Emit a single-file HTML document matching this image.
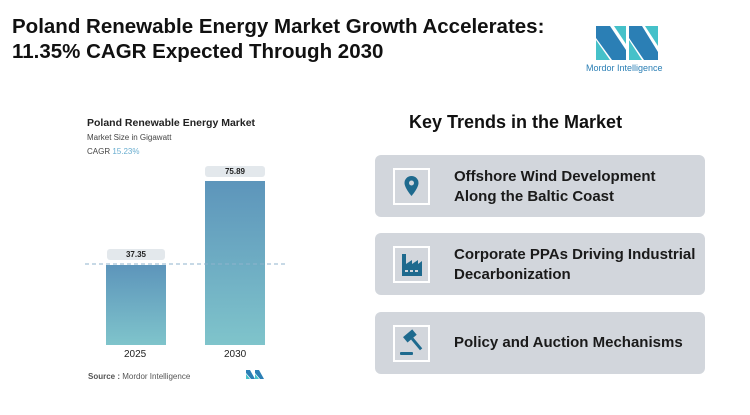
<!DOCTYPE html>
<html><head><style>
body{margin:0;width:750px;height:415px;background:#fff;font-family:"Liberation Sans",sans-serif;position:relative;overflow:hidden}
.a{position:absolute}
h1{position:absolute;left:12px;top:14px;margin:0;font-size:20.5px;line-height:25px;font-weight:bold;color:#111}
.card{position:absolute;left:375px;width:330px;height:62px;background:#d2d6dc;border-radius:6px}
.ic{position:absolute;left:18px;top:13px;width:33px;height:33px;border:2px solid #fff;background:#d2d6dc}
.ct{position:absolute;left:79px;font-size:15px;font-weight:bold;color:#1a1a1a;line-height:20px;white-space:nowrap}
.pill{position:absolute;height:11px;background:#e3e8ec;border-radius:3px;font-size:8px;font-weight:bold;text-align:center;line-height:11px;color:#222}
</style></head><body>
<h1>Poland Renewable Energy Market Growth Accelerates:<br>11.35% CAGR Expected Through 2030</h1>
<svg class="a" style="left:596px;top:26px" width="62" height="34">
<polygon points="0,0 14,0 30,24 30,34 16,34 0,12" fill="#2b7fb5"/>
<polygon points="0,14 14,34 0,34" fill="#45c1c9"/>
<polygon points="18,0 30,0 30,18" fill="#45c1c9"/>
<polygon points="33,0 46,0 62,26 62,34 48,34 33,12" fill="#2b7fb5"/>
<polygon points="33,14 46,34 33,34" fill="#45c1c9"/>
<polygon points="49,0 62,0 62,20" fill="#45c1c9"/>
</svg>
<div class="a" style="left:586px;top:63px;font-size:9px;color:#2b7fb5">Mordor Intelligence</div>

<div class="a" style="left:87px;top:117px;font-size:10.5px;font-weight:bold;color:#222">Poland Renewable Energy Market</div>
<div class="a" style="left:87px;top:133px;font-size:8px;color:#444">Market Size in Gigawatt</div>
<div class="a" style="left:87px;top:147px;font-size:8px;color:#444">CAGR <span style="color:#6aaed0">15.23%</span></div>
<svg class="a" style="left:0;top:0" width="750" height="415">
<defs><linearGradient id="g" x1="0" y1="0" x2="0" y2="1"><stop offset="0" stop-color="#5d95bb"/><stop offset="1" stop-color="#7fc4cb"/></linearGradient></defs>
<rect x="106" y="265" width="60" height="80" fill="url(#g)"/>
<rect x="205" y="181" width="60" height="164" fill="url(#g)"/>
<line x1="85" y1="264" x2="286" y2="264" stroke="#8fb3cc" stroke-dasharray="4,3" stroke-width="1"/>
</svg>
<div class="pill" style="left:107px;top:249px;width:58px">37.35</div>
<div class="pill" style="left:205px;top:166px;width:60px">75.89</div>
<div class="a" style="left:124px;top:349px;font-size:10px;color:#222">2025</div>
<div class="a" style="left:224px;top:349px;font-size:10px;color:#222">2030</div>
<div class="a" style="left:88px;top:372px;font-size:8px;color:#555"><b>Source :</b> Mordor Intelligence</div>
<svg class="a" style="left:246px;top:370px" width="18" height="9"><polygon points="0,0 4,0 9,9 5,9 0,3" fill="#2b7fb5"/><polygon points="9,0 13,0 18,9 14,9 9,3" fill="#2b7fb5"/><polygon points="0,4 4,9 0,9" fill="#45c1c9"/><polygon points="9,4 13,9 9,9" fill="#45c1c9"/></svg>

<div class="a" style="left:409px;top:112px;font-size:18px;font-weight:bold;color:#111">Key Trends in the Market</div>
<div class="card" style="top:155px"><div class="ic"><svg width="33" height="33"><path d="M16.5 6a7 7 0 0 0-7 7c0 5 7 13 7 13s7-8 7-13a7 7 0 0 0-7-7z" fill="#1e6a8e"/><circle cx="16.5" cy="13" r="2.5" fill="#d2d6dc"/></svg></div><div class="ct" style="top:12px">Offshore Wind Development<br>Along the Baltic Coast</div></div>
<div class="card" style="top:233px"><div class="ic"><svg width="33" height="33"><path d="M7 6h4v10l6-4v4l6-4v4l4-3v15H7z" fill="#1e6a8e"/><rect x="10" y="22" width="3" height="2" fill="#d2d6dc"/><rect x="15" y="22" width="3" height="2" fill="#d2d6dc"/><rect x="20" y="22" width="3" height="2" fill="#d2d6dc"/></svg></div><div class="ct" style="top:12px">Corporate PPAs Driving Industrial<br>Decarbonization</div></div>
<div class="card" style="top:312px"><div class="ic"><svg width="33" height="33"><g transform="rotate(-40 17 13)"><rect x="12" y="5" width="12" height="7" fill="#1e6a8e"/><rect x="16.5" y="12" width="3" height="14" fill="#1e6a8e"/></g><rect x="5" y="25" width="13" height="3" rx="1" fill="#1e6a8e"/></svg></div><div class="ct" style="top:21px">Policy and Auction Mechanisms</div></div>
</body></html>
